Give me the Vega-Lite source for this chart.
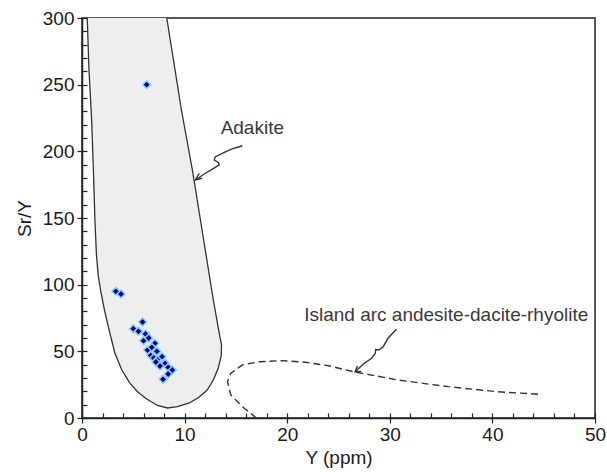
{
  "$schema": "https://vega.github.io/schema/vega-lite/v6.json",
  "autosize": "none",
  "width": 513,
  "height": 400,
  "padding": {"left": 82, "top": 18, "right": 12, "bottom": 54},
  "background": "white",
  "config": {
    "view": {"stroke": "#222", "strokeWidth": 1.5},
    "font": "Liberation Sans"
  },
  "resolve": {"axis": {"x": "independent", "y": "independent"}},
  "datasets": {
    "adakite": [
      {"i": 1, "x": 0.51, "y": 300}, {"i": 2, "x": 0.68, "y": 261}, {"i": 3, "x": 0.94, "y": 223.5},
      {"i": 4, "x": 1.11, "y": 186}, {"i": 5, "x": 1.26, "y": 148.5}, {"i": 6, "x": 1.41, "y": 122},
      {"i": 7, "x": 1.58, "y": 107}, {"i": 8, "x": 1.84, "y": 94.5}, {"i": 9, "x": 2.23, "y": 79.5},
      {"i": 10, "x": 2.71, "y": 63.8}, {"i": 11, "x": 3.2, "y": 48.8}, {"i": 12, "x": 3.88, "y": 36},
      {"i": 13, "x": 4.65, "y": 26.3}, {"i": 14, "x": 5.43, "y": 19.5}, {"i": 15, "x": 6.3, "y": 14.3},
      {"i": 16, "x": 7.36, "y": 9.4}, {"i": 17, "x": 8.33, "y": 7.5}, {"i": 18, "x": 9.3, "y": 8.6},
      {"i": 19, "x": 10.47, "y": 11.3}, {"i": 20, "x": 11.43, "y": 15.8}, {"i": 21, "x": 12.2, "y": 21},
      {"i": 22, "x": 12.8, "y": 28.5}, {"i": 23, "x": 13.28, "y": 37.5}, {"i": 24, "x": 13.57, "y": 46.5},
      {"i": 25, "x": 13.6, "y": 54.8}, {"i": 26, "x": 13.37, "y": 63.8}, {"i": 27, "x": 12.8, "y": 88.5},
      {"i": 28, "x": 11.7, "y": 141}, {"i": 29, "x": 10.76, "y": 186}, {"i": 30, "x": 9.69, "y": 231},
      {"i": 31, "x": 8.26, "y": 300}
    ],
    "arc": [
      {"i": 1, "x": 17.0, "y": 0}, {"i": 2, "x": 15.63, "y": 8.5}, {"i": 3, "x": 14.5, "y": 17.3},
      {"i": 4, "x": 14.18, "y": 27.2}, {"i": 5, "x": 14.5, "y": 33.5}, {"i": 6, "x": 15.63, "y": 39.8},
      {"i": 7, "x": 17.25, "y": 42.2}, {"i": 8, "x": 19.5, "y": 43}, {"i": 9, "x": 21.77, "y": 41.8},
      {"i": 10, "x": 24.03, "y": 39.2}, {"i": 11, "x": 26.45, "y": 34.7}, {"i": 12, "x": 30.81, "y": 28.5},
      {"i": 13, "x": 35.66, "y": 23.5}, {"i": 14, "x": 40.5, "y": 19.7}, {"i": 15, "x": 44.54, "y": 17.8}
    ],
    "arrows": [
      {"g": "a1", "i": 1, "x": 15.63, "y": 204.2}, {"g": "a1", "i": 2, "x": 14.63, "y": 201.8},
      {"g": "a1", "i": 3, "x": 13.76, "y": 198.8}, {"g": "a1", "i": 4, "x": 12.98, "y": 195.8},
      {"g": "a1", "i": 5, "x": 12.89, "y": 193.5}, {"g": "a1", "i": 6, "x": 13.28, "y": 191.6},
      {"g": "a1", "i": 7, "x": 13.37, "y": 189.8}, {"g": "a1", "i": 8, "x": 12.79, "y": 187.1},
      {"g": "a1", "i": 9, "x": 11.92, "y": 183}, {"g": "a1", "i": 10, "x": 11.05, "y": 178.5},
      {"g": "a1h", "i": 1, "x": 11.43, "y": 183.4}, {"g": "a1h", "i": 2, "x": 11.05, "y": 178.5},
      {"g": "a1h", "i": 3, "x": 11.72, "y": 179.8},
      {"g": "a2", "i": 1, "x": 30.65, "y": 66.5}, {"g": "a2", "i": 2, "x": 29.84, "y": 60},
      {"g": "a2", "i": 3, "x": 29.36, "y": 53.5}, {"g": "a2", "i": 4, "x": 28.92, "y": 51},
      {"g": "a2", "i": 5, "x": 28.63, "y": 51.4}, {"g": "a2", "i": 6, "x": 28.58, "y": 48.4},
      {"g": "a2", "i": 7, "x": 28.22, "y": 44.8}, {"g": "a2", "i": 8, "x": 27.42, "y": 40.5},
      {"g": "a2", "i": 9, "x": 26.62, "y": 34.7},
      {"g": "a2h", "i": 1, "x": 26.84, "y": 39}, {"g": "a2h", "i": 2, "x": 26.62, "y": 34.7},
      {"g": "a2h", "i": 3, "x": 27.23, "y": 34.9}
    ],
    "samples": [
      {"x": 6.3, "y": 250}, {"x": 3.3, "y": 95}, {"x": 3.8, "y": 93},
      {"x": 5.9, "y": 72}, {"x": 5.0, "y": 67}, {"x": 5.5, "y": 65}, {"x": 6.2, "y": 63},
      {"x": 6.0, "y": 58}, {"x": 6.5, "y": 60}, {"x": 7.1, "y": 56}, {"x": 6.4, "y": 51},
      {"x": 6.8, "y": 53}, {"x": 7.3, "y": 50}, {"x": 6.7, "y": 47}, {"x": 7.0, "y": 45},
      {"x": 7.4, "y": 44}, {"x": 7.8, "y": 46}, {"x": 8.1, "y": 41}, {"x": 7.6, "y": 39},
      {"x": 8.4, "y": 38}, {"x": 8.8, "y": 36}, {"x": 8.4, "y": 33}, {"x": 7.9, "y": 29},
      {"x": 7.2, "y": 42}
    ],
    "labels": [
      {"x": 16.6, "y": 217.5, "t": "Adakite"},
      {"x": 35.5, "y": 77.3, "t": "Island arc andesite-dacite-rhyolite"}
    ]
  },
  "layer": [
    {
      "data": {"name": "adakite"},
      "mark": {"type": "line", "fill": "#eeeeee", "stroke": "#333333", "strokeWidth": 1.3, "clip": true},
      "encoding": {
        "x": {
          "field": "x", "type": "quantitative",
          "scale": {"domain": [0, 50], "nice": false, "zero": false},
          "axis": {
            "title": "Y (ppm)", "orient": "bottom",
            "values": [0, 10, 20, 30, 40, 50],
            "labelOverlap": false, "labelFlush": false,
            "grid": false,
            "tickSize": 5, "labelPadding": 2,
            "domainColor": "#222", "domainWidth": 1.5,
            "tickColor": "#222", "tickWidth": 1.2,
            "labelFontSize": 19, "labelColor": "#1a1a1a", "labelFont": "Liberation Sans",
            "titleFontSize": 19, "titleFontWeight": "normal", "titleColor": "#1a1a1a", "titleFont": "Liberation Sans",
            "titlePadding": 4
          }
        },
        "y": {
          "field": "y", "type": "quantitative",
          "scale": {"domain": [0, 300], "nice": false, "zero": false},
          "axis": {
            "title": "Sr/Y", "orient": "left",
            "values": [0, 50, 100, 150, 200, 250, 300],
            "labelOverlap": false, "labelFlush": false,
            "grid": false,
            "tickSize": 5, "labelPadding": 3,
            "domainColor": "#222", "domainWidth": 1.5,
            "tickColor": "#222", "tickWidth": 1.2,
            "labelFontSize": 19, "labelColor": "#1a1a1a", "labelFont": "Liberation Sans",
            "titleFontSize": 19, "titleFontWeight": "normal", "titleColor": "#1a1a1a", "titleFont": "Liberation Sans",
            "titlePadding": 8
          }
        },
        "order": {"field": "i", "type": "quantitative"}
      }
    },
    {
      "data": {"name": "arc"},
      "mark": {"type": "line", "stroke": "#333333", "strokeWidth": 1.4, "strokeDash": [7, 4], "clip": true},
      "encoding": {
        "x": {
          "field": "x", "type": "quantitative",
          "axis": {
            "orient": "top", "offset": -400, "title": null,
            "values": [0,2,4,6,8,10,12,14,16,18,20,22,24,26,28,30,32,34,36,38,40,42,44,46,48,50],
            "labels": false, "domain": false, "grid": false,
            "tickSize": 5, "tickColor": "#222", "tickWidth": 1.2
          }
        },
        "y": {
          "field": "y", "type": "quantitative",
          "axis": {
            "orient": "right", "offset": -513, "title": null,
            "values": [0,10,20,30,40,50,60,70,80,90,100,110,120,130,140,150,160,170,180,190,200,210,220,230,240,250,260,270,280,290,300],
            "labels": false, "domain": false, "grid": false,
            "tickSize": 5, "tickColor": "#222", "tickWidth": 1.2
          }
        },
        "order": {"field": "i", "type": "quantitative"}
      }
    },
    {
      "data": {"name": "arrows"},
      "mark": {"type": "line", "stroke": "#333333", "strokeWidth": 1.4, "clip": true},
      "encoding": {
        "x": {"field": "x", "type": "quantitative", "axis": null},
        "y": {"field": "y", "type": "quantitative", "axis": null},
        "detail": {"field": "g"},
        "order": {"field": "i", "type": "quantitative"}
      }
    },
    {
      "data": {"name": "samples"},
      "mark": {"type": "point", "shape": "diamond", "filled": true, "fill": "#000080", "stroke": "#87cefa", "strokeWidth": 1.5, "size": 62, "opacity": 1},
      "encoding": {
        "x": {"field": "x", "type": "quantitative", "axis": null},
        "y": {"field": "y", "type": "quantitative", "axis": null}
      }
    },
    {
      "data": {"name": "labels"},
      "mark": {"type": "text", "fontSize": 19, "font": "Liberation Sans", "color": "#3a3a3a", "align": "center", "baseline": "middle"},
      "encoding": {
        "x": {"field": "x", "type": "quantitative", "axis": null},
        "y": {"field": "y", "type": "quantitative", "axis": null},
        "text": {"field": "t"}
      }
    }
  ]
}
